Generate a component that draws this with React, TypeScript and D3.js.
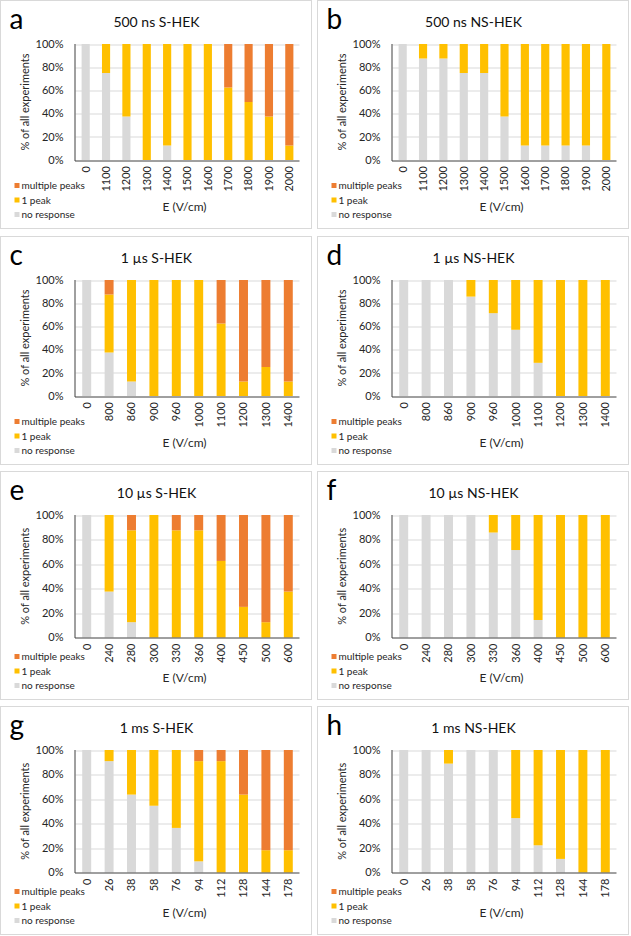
import { useEffect, useRef } from 'react';
import * as d3 from 'd3';

// E-field steps per pulse duration
const fields500ns = ['0', '1100', '1200', '1300', '1400', '1500', '1600', '1700', '1800', '1900', '2000'];
const fields1us = ['0', '800', '860', '900', '960', '1000', '1100', '1200', '1300', '1400'];
const fields10us = ['0', '240', '280', '300', '330', '360', '400', '450', '500', '600'];
const fields1ms = ['0', '26', '38', '58', '76', '94', '112', '128', '144', '178'];

// % of experiments: no response / 1 peak / multiple peaks
const noneA = [100, 75, 37.5, 0, 12.5, 0, 0, 0, 0, 0, 0];
const oneA = [0, 25, 62.5, 100, 87.5, 100, 100, 62.5, 50, 37.5, 12.5];
const multiA = [0, 0, 0, 0, 0, 0, 0, 37.5, 50, 62.5, 87.5];

const noneB = [100, 87.5, 87.5, 75, 75, 37.5, 12.5, 12.5, 12.5, 12.5, 0];
const oneB = [0, 12.5, 12.5, 25, 25, 62.5, 87.5, 87.5, 87.5, 87.5, 100];
const multiB = [0, 0, 0, 0, 0, 0, 0, 0, 0, 0, 0];

const noneC = [100, 37.5, 12.5, 0, 0, 0, 0, 0, 0, 0];
const oneC = [0, 50, 87.5, 100, 100, 100, 62.5, 12.5, 25, 12.5];
const multiC = [0, 12.5, 0, 0, 0, 0, 37.5, 87.5, 75, 87.5];

const noneD = [100, 100, 100, 85.7, 71.4, 57.1, 28.6, 0, 0, 0];
const oneD = [0, 0, 0, 14.3, 28.6, 42.9, 71.4, 100, 100, 100];
const multiD = [0, 0, 0, 0, 0, 0, 0, 0, 0, 0];

const noneE = [100, 37.5, 12.5, 0, 0, 0, 0, 0, 0, 0];
const oneE = [0, 62.5, 75, 100, 87.5, 87.5, 62.5, 25, 12.5, 37.5];
const multiE = [0, 0, 12.5, 0, 12.5, 12.5, 37.5, 75, 87.5, 62.5];

const noneF = [100, 100, 100, 100, 85.7, 71.4, 14.3, 0, 0, 0];
const oneF = [0, 0, 0, 0, 14.3, 28.6, 85.7, 100, 100, 100];
const multiF = [0, 0, 0, 0, 0, 0, 0, 0, 0, 0];

const noneG = [100, 90.9, 63.6, 54.5, 36.4, 9.1, 0, 0, 0, 0];
const oneG = [0, 9.1, 36.4, 45.5, 63.6, 81.8, 90.9, 63.6, 18.2, 18.2];
const multiG = [0, 0, 0, 0, 0, 9.1, 9.1, 36.4, 81.8, 81.8];

const noneH = [100, 100, 88.9, 100, 100, 44.4, 22.2, 11.1, 0, 0];
const oneH = [0, 0, 11.1, 0, 0, 55.6, 77.8, 88.9, 100, 100];
const multiH = [0, 0, 0, 0, 0, 0, 0, 0, 0, 0];

const yTicks = [0, 20, 40, 60, 80, 100];
const legendLabels = ['multiple peaks', '1 peak', 'no response'];

const keys = ['none', 'one', 'multi'];
const colors: Record<string, string> = {
  none: '#d9d9d9',
  one: '#ffc000',
  multi: '#ed7d31',
};
const legendKeys = ['multi', 'one', 'none'];

const panels = [
  { letter: 'a', title: '500 ns S-HEK', cats: fields500ns, none: noneA, one: oneA, multi: multiA },
  { letter: 'b', title: '500 ns NS-HEK', cats: fields500ns, none: noneB, one: oneB, multi: multiB },
  { letter: 'c', title: '1 µs S-HEK', cats: fields1us, none: noneC, one: oneC, multi: multiC },
  { letter: 'd', title: '1 µs NS-HEK', cats: fields1us, none: noneD, one: oneD, multi: multiD },
  { letter: 'e', title: '10 µs S-HEK', cats: fields10us, none: noneE, one: oneE, multi: multiE },
  { letter: 'f', title: '10 µs NS-HEK', cats: fields10us, none: noneF, one: oneF, multi: multiF },
  { letter: 'g', title: '1 ms S-HEK', cats: fields1ms, none: noneG, one: oneG, multi: multiG },
  { letter: 'h', title: '1 ms NS-HEK', cats: fields1ms, none: noneH, one: oneH, multi: multiH },
];

const W = 631;
const H = 936;
const colX = [0.5, 317.5];
const rowY = [0.5, 236.5, 471.5, 706.5];
const panelW = 311;
const panelH = 228;
const font = 'Lato, "Noto Sans", sans-serif';
const ink = '#262626';

export default function App() {
  const svgRef = useRef<SVGSVGElement>(null);

  useEffect(() => {
    if (!svgRef.current) return;
    const svg = d3.select(svgRef.current);
    svg.selectAll('*').remove();

    svg.append('rect').attr('width', W).attr('height', H).attr('fill', '#fff');

    panels.forEach((p, i) => {
      const px = colX[i % 2];
      const py = rowY[Math.floor(i / 2)];
      const g = svg.append('g').attr('transform', `translate(${px},${py})`);

      g.append('rect')
        .attr('width', panelW)
        .attr('height', panelH)
        .attr('fill', '#fff')
        .attr('stroke', '#d9d9d9');

      // long 4-digit tick labels push the plot floor up
      const longest = d3.max(p.cats, c => c.length) ?? 0;
      const bottom = longest >= 4 ? 159.5 : 166;
      const top = 43.5;

      const x = d3.scaleBand()
        .domain(p.cats)
        .range([75, 299])
        .paddingInner(0.6)
        .paddingOuter(0.3);

      const y = d3.scaleLinear().domain([0, 100]).range([bottom, top]);

      // gridlines
      g.append('g')
        .selectAll('line')
        .data(yTicks.slice(1))
        .enter()
        .append('line')
        .attr('x1', 75)
        .attr('x2', 299)
        .attr('y1', d => Math.round(y(d)) + 0.5)
        .attr('y2', d => Math.round(y(d)) + 0.5)
        .attr('stroke', '#d9d9d9');

      const rows = p.cats.map((c, j) => ({ cat: c, none: p.none[j], one: p.one[j], multi: p.multi[j] }));
      const stacked = d3.stack<any>().keys(keys)(rows);

      stacked.forEach(layer => {
        g.append('g')
          .attr('fill', colors[layer.key])
          .selectAll('rect')
          .data(layer)
          .enter()
          .append('rect')
          .attr('x', d => x(d.data.cat) as number)
          .attr('width', x.bandwidth())
          .attr('y', d => y(d[1]))
          .attr('height', d => y(d[0]) - y(d[1]));
      });

      // axes
      g.append('line')
        .attr('x1', 74.5).attr('x2', 74.5)
        .attr('y1', top).attr('y2', Math.round(bottom) + 0.5)
        .attr('stroke', '#404040');
      g.append('line')
        .attr('x1', 74.5).attr('x2', 299)
        .attr('y1', Math.round(bottom) + 0.5).attr('y2', Math.round(bottom) + 0.5)
        .attr('stroke', '#404040');

      g.append('g')
        .selectAll('text')
        .data(yTicks)
        .enter()
        .append('text')
        .attr('x', 63)
        .attr('y', d => y(d))
        .attr('dy', '0.35em')
        .attr('text-anchor', 'end')
        .attr('font-family', font)
        .attr('font-size', 11)
        .attr('fill', ink)
        .text(d => `${d}%`);

      g.append('g')
        .selectAll('text')
        .data(p.cats)
        .enter()
        .append('text')
        .attr('transform', d => `translate(${(x(d) as number) + x.bandwidth() / 2},${bottom + 6}) rotate(-90)`)
        .attr('dy', '0.35em')
        .attr('text-anchor', 'end')
        .attr('font-family', font)
        .attr('font-size', 11)
        .attr('fill', ink)
        .text(d => d);

      g.append('text')
        .attr('transform', `translate(25,${(top + bottom) / 2}) rotate(-90)`)
        .attr('dy', '0.35em')
        .attr('text-anchor', 'middle')
        .attr('font-family', font)
        .attr('font-size', 11)
        .attr('fill', ink)
        .text('% of all experiments');

      g.append('text')
        .attr('x', 184)
        .attr('y', 210)
        .attr('text-anchor', 'middle')
        .attr('font-family', font)
        .attr('font-size', 12)
        .attr('fill', ink)
        .text('E (V/cm)');

      g.append('text')
        .attr('x', 156)
        .attr('y', 26)
        .attr('text-anchor', 'middle')
        .attr('font-family', font)
        .attr('font-size', 14)
        .attr('fill', '#111')
        .text(p.title);

      g.append('text')
        .attr('x', 9)
        .attr('y', 28)
        .attr('font-family', font)
        .attr('font-size', 28)
        .attr('fill', '#000')
        .text(p.letter);

      // legend
      const lg = g.append('g').attr('transform', 'translate(14,185)');
      legendKeys.forEach((k, j) => {
        lg.append('rect')
          .attr('x', 0)
          .attr('y', j * 14.5 - 2.5)
          .attr('width', 5)
          .attr('height', 5)
          .attr('fill', colors[k]);
        lg.append('text')
          .attr('x', 7)
          .attr('y', j * 14.5)
          .attr('dy', '0.35em')
          .attr('font-family', font)
          .attr('font-size', 10)
          .attr('fill', ink)
          .text(legendLabels[j]);
      });
    });
  }, []);

  return (
    <svg
      ref={svgRef}
      width={W}
      height={H}
      style={{ position: 'absolute', left: 0, top: 0, display: 'block' }}
    ></svg>
  );
}
